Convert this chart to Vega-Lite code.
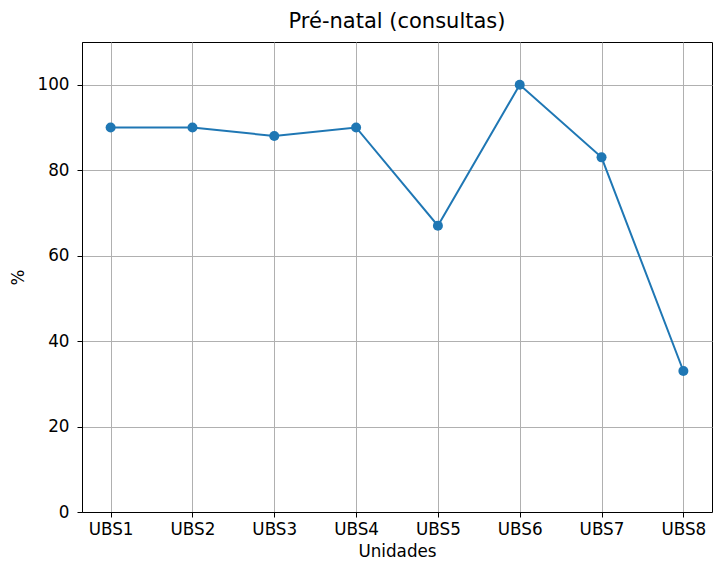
{
  "$schema": "https://vega.github.io/schema/vega-lite/v6.json",
  "autosize": {"type": "none"},
  "width": 630,
  "height": 470,
  "padding": {"left": 82, "top": 42, "right": 1, "bottom": 53},
  "background": "white",
  "config": {
    "font": "DejaVu Sans",
    "view": {"stroke": "black", "strokeWidth": 1},
    "axis": {
      "domainColor": "black",
      "tickColor": "black",
      "tickSize": 5,
      "labelColor": "black",
      "labelFontSize": 16.8,
      "labelFont": "DejaVu Sans",
      "titleFont": "DejaVu Sans",
      "titleFontSize": 16.8,
      "titleFontWeight": "normal",
      "titleColor": "black",
      "gridColor": "#b0b0b0",
      "gridWidth": 1,
      "gridOpacity": 1
    }
  },
  "title": {
    "text": "Pré-natal (consultas)",
    "fontSize": 21,
    "fontWeight": "normal",
    "font": "DejaVu Sans",
    "color": "black",
    "offset": 10
  },
  "data": {
    "values": [
      {"unidade": "UBS1", "pct": 90},
      {"unidade": "UBS2", "pct": 90},
      {"unidade": "UBS3", "pct": 88},
      {"unidade": "UBS4", "pct": 90},
      {"unidade": "UBS5", "pct": 67},
      {"unidade": "UBS6", "pct": 100},
      {"unidade": "UBS7", "pct": 83},
      {"unidade": "UBS8", "pct": 33}
    ]
  },
  "encoding": {
    "x": {
      "field": "unidade",
      "type": "ordinal",
      "sort": null,
      "scale": {"type": "point", "padding": 0.35},
      "axis": {"title": "Unidades", "labelAngle": 0, "grid": true, "labelPadding": 4, "titlePadding": 6}
    },
    "y": {
      "field": "pct",
      "type": "quantitative",
      "scale": {"domain": [0, 110], "nice": false, "zero": true},
      "axis": {"title": "%", "values": [0, 20, 40, 60, 80, 100], "grid": true, "titlePadding": 9, "labelPadding": 8}
    }
  },
  "layer": [
    {"mark": {"type": "line", "color": "#1f77b4", "strokeWidth": 2}},
    {"mark": {"type": "point", "filled": true, "color": "#1f77b4", "opacity": 1, "size": 100}}
  ]
}
